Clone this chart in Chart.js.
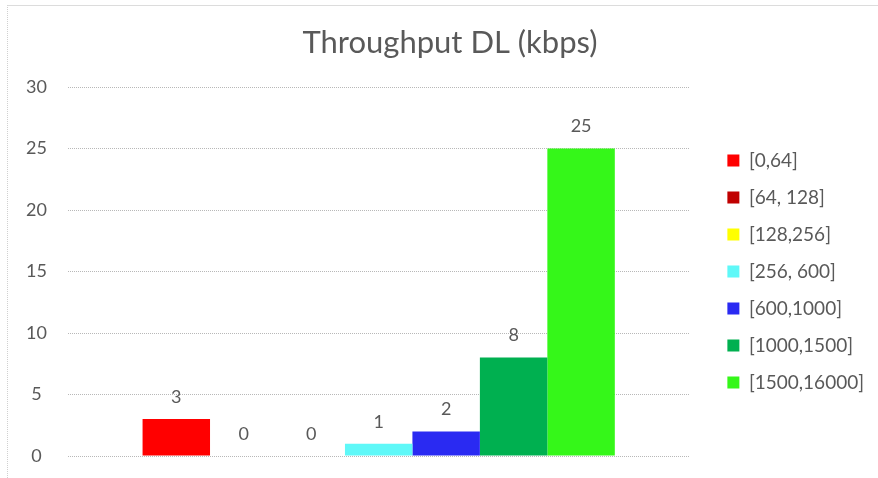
<!DOCTYPE html>
<html>
<head>
<meta charset="utf-8">
<script src="https://cdn.jsdelivr.net/npm/chart.js@4.4.1/dist/chart.umd.min.js"></script>
<style>
  html, body { margin: 0; padding: 0; background: #ffffff; }
  #wrap { position: relative; width: 878px; height: 478px; }
  #frame { position: absolute; left: 7px; top: 5px; right: 0; bottom: 0;
           border-top: 1px solid #dcdcdc; border-left: 1px dotted #d0d0d0; pointer-events: none; }
  canvas { display: block; }
</style>
</head>
<body>
<div id="wrap">
  <canvas id="chart" width="878" height="478"></canvas>
  <div id="frame"></div>
</div>
<script>
// Throughput DL distribution, count of samples per kbps bucket
const chartTitle = 'Throughput DL (kbps)';
const categories = [''];
const bucketLabels = ['[0,64]', '[64, 128]', '[128,256]', '[256, 600]', '[600,1000]', '[1000,1500]', '[1500,16000]'];
const bucketCounts = [3, 0, 0, 1, 2, 8, 25];
const bucketColors = ['#ff0000', '#c00000', '#ffff00', '#5ff8f8', '#2a2af2', '#00b050', '#35f719'];
const yTicks = [0, 5, 10, 15, 20, 25, 30];

const FONT = 'Lato, "Open Sans", sans-serif';
const TEXT = '#595959';

// Title centred over the whole chart frame (which runs past the right edge)
const frameTitle = {
  id: 'frameTitle',
  afterDraw(chart) {
    const ctx = chart.ctx;
    ctx.save();
    ctx.font = '31px ' + FONT;
    ctx.fillStyle = TEXT;
    ctx.textAlign = 'center';
    ctx.textBaseline = 'middle';
    ctx.fillText(chartTitle, 450, 43);
    ctx.restore();
  }
};

// Value labels above each bar
const valueLabels = {
  id: 'valueLabels',
  afterDatasetsDraw(chart) {
    const ctx = chart.ctx;
    ctx.save();
    ctx.font = '18px ' + FONT;
    ctx.fillStyle = TEXT;
    ctx.textAlign = 'center';
    ctx.textBaseline = 'middle';
    chart.data.datasets.forEach((ds, i) => {
      const meta = chart.getDatasetMeta(i);
      meta.data.forEach((bar, j) => {
        ctx.fillText(String(ds.data[j]), bar.x, bar.y - 22);
      });
    });
    ctx.restore();
  }
};

new Chart(document.getElementById('chart'), {
  type: 'bar',
  data: {
    labels: categories,
    datasets: bucketLabels.map((name, i) => ({
      label: name,
      data: [bucketCounts[i]],
      backgroundColor: bucketColors[i],
      borderWidth: 0,
      categoryPercentage: 0.76,
      barPercentage: 1.0
    }))
  },
  options: {
    responsive: false,
    animation: false,
    events: [],
    layout: { padding: { left: 7, right: 4, top: 87, bottom: 22 } },
    scales: {
      x: { display: false },
      y: {
        min: 0, max: 30,
        afterBuildTicks(scale) { scale.ticks = yTicks.map(v => ({ value: v })); },
        afterFit(scale) {
          scale.width = 61;
          scale.paddingTop = 0;
          scale.paddingBottom = 0;
        },
        border: { display: false, dash: [1, 1] },
        grid: { color: '#b8b8b8', lineWidth: 1, drawTicks: false },
        ticks: { color: TEXT, font: { family: FONT, size: 18 }, padding: 21, crossAlign: 'center' }
      },
      gap: {
        type: 'linear', position: 'right', display: true,
        afterFit(scale) { scale.width = 20; },
        border: { display: false },
        grid: { display: false, drawTicks: false },
        ticks: { display: false }
      }
    },
    plugins: {
      title: { display: false },
      legend: {
        position: 'right',
        align: 'center',
        fullSize: false,
        maxWidth: 220,
        labels: {
          boxWidth: 12, boxHeight: 12, padding: 18,
          color: TEXT,
          font: { family: FONT, size: 19 }
        }
      },
      tooltip: { enabled: false }
    }
  },
  plugins: [valueLabels, frameTitle]
});
</script>
</body>
</html>
